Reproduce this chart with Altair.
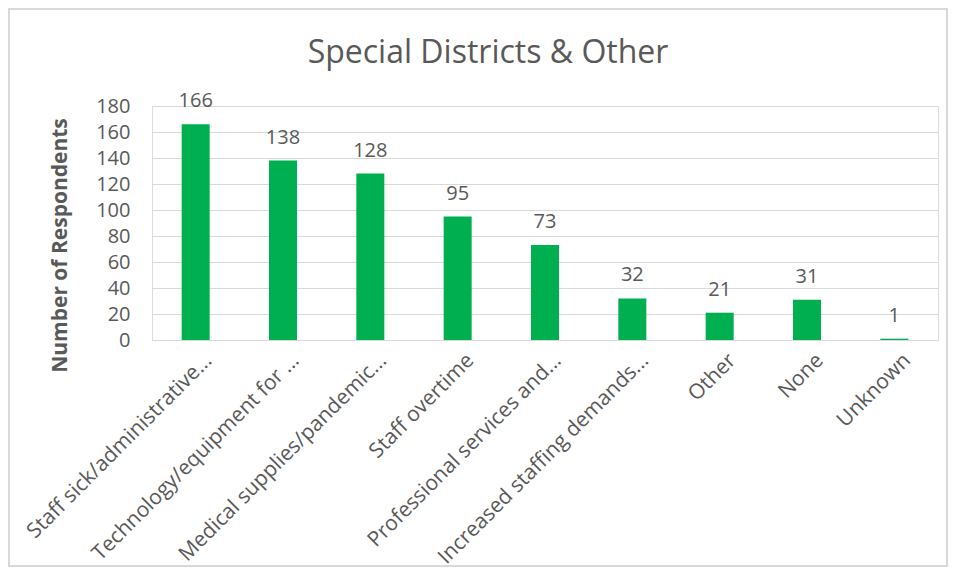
import altair as alt
import pandas as pd

categories = [
    "Staff sick/administrative...",
    "Technology/equipment for ...",
    "Medical supplies/pandemic...",
    "Staff overtime",
    "Professional services and...",
    "Increased staffing demands...",
    "Other",
    "None",
    "Unknown",
]
values = [166, 138, 128, 95, 73, 32, 21, 31, 1]
y_ticks = [0, 20, 40, 60, 80, 100, 120, 140, 160, 180]

df = pd.DataFrame({"category": categories, "value": values})

FONT = "Open Sans"
TXT = "#595959"

x_enc = alt.X(
    "category:N",
    sort=categories,
    title=None,
    scale=alt.Scale(paddingInner=0, paddingOuter=0),
    axis=alt.Axis(
        labelAngle=-45,
        labelAlign="right",
        labelBaseline="middle",
        labelPadding=17,
        labelOffset=13,
        labelFontSize=21,
        labelFont=FONT,
        labelColor=TXT,
        labelLimit=400,
        ticks=False,
        domain=True,
        domainColor="#D9D9D9",
        grid=False,
    ),
)
y_enc = alt.Y(
    "value:Q",
    title="Number of Respondents",
    scale=alt.Scale(domain=[0, 180], nice=False),
    axis=alt.Axis(
        values=y_ticks,
        labelOverlap=False,
        labelFontSize=20,
        labelFont=FONT,
        labelColor=TXT,
        labelPadding=22,
        ticks=False,
        domain=False,
        grid=True,
        gridColor="#D9D9D9",
        gridWidth=1,
        titleFont=FONT,
        titleFontSize=21,
        titleFontWeight="bold",
        titleColor=TXT,
        titleX=-82,
        titleY=139,
        titleAlign="center",
        titleAngle=270,
        titleBaseline="bottom",
    ),
)

bars = alt.Chart(df).mark_bar(size=28, color="#00B050").encode(x=x_enc, y=y_enc)

labels = alt.Chart(df).mark_text(
    baseline="alphabetic", dy=-17, fontSize=20, font=FONT, color=TXT
).encode(x=x_enc, y=y_enc, text="value:Q")

frame = alt.Chart(df).mark_rect(
    fill=None, stroke="#D9D9D9", strokeWidth=1.5
).encode(
    x=alt.value(-143), x2=alt.value(795), y=alt.value(-97), y2=alt.value(460)
)

chart = (
    alt.layer(frame, bars, labels)
    .properties(
        width=786,
        height=234,
        title=alt.TitleParams(
            "Special Districts & Other",
            font=FONT,
            fontSize=32,
            fontWeight="normal",
            color=TXT,
            anchor="middle",
            frame="group",
            dx=-57,
            offset=-62,
        ),
        autosize=alt.AutoSizeParams(type="none"),
        padding={"left": 144, "top": 98, "right": 10, "bottom": 230},
    )
    .configure_view(stroke=None)
    .configure(background="white")
)

chart.save("out.html", embed_options={"renderer": "svg", "actions": False})
